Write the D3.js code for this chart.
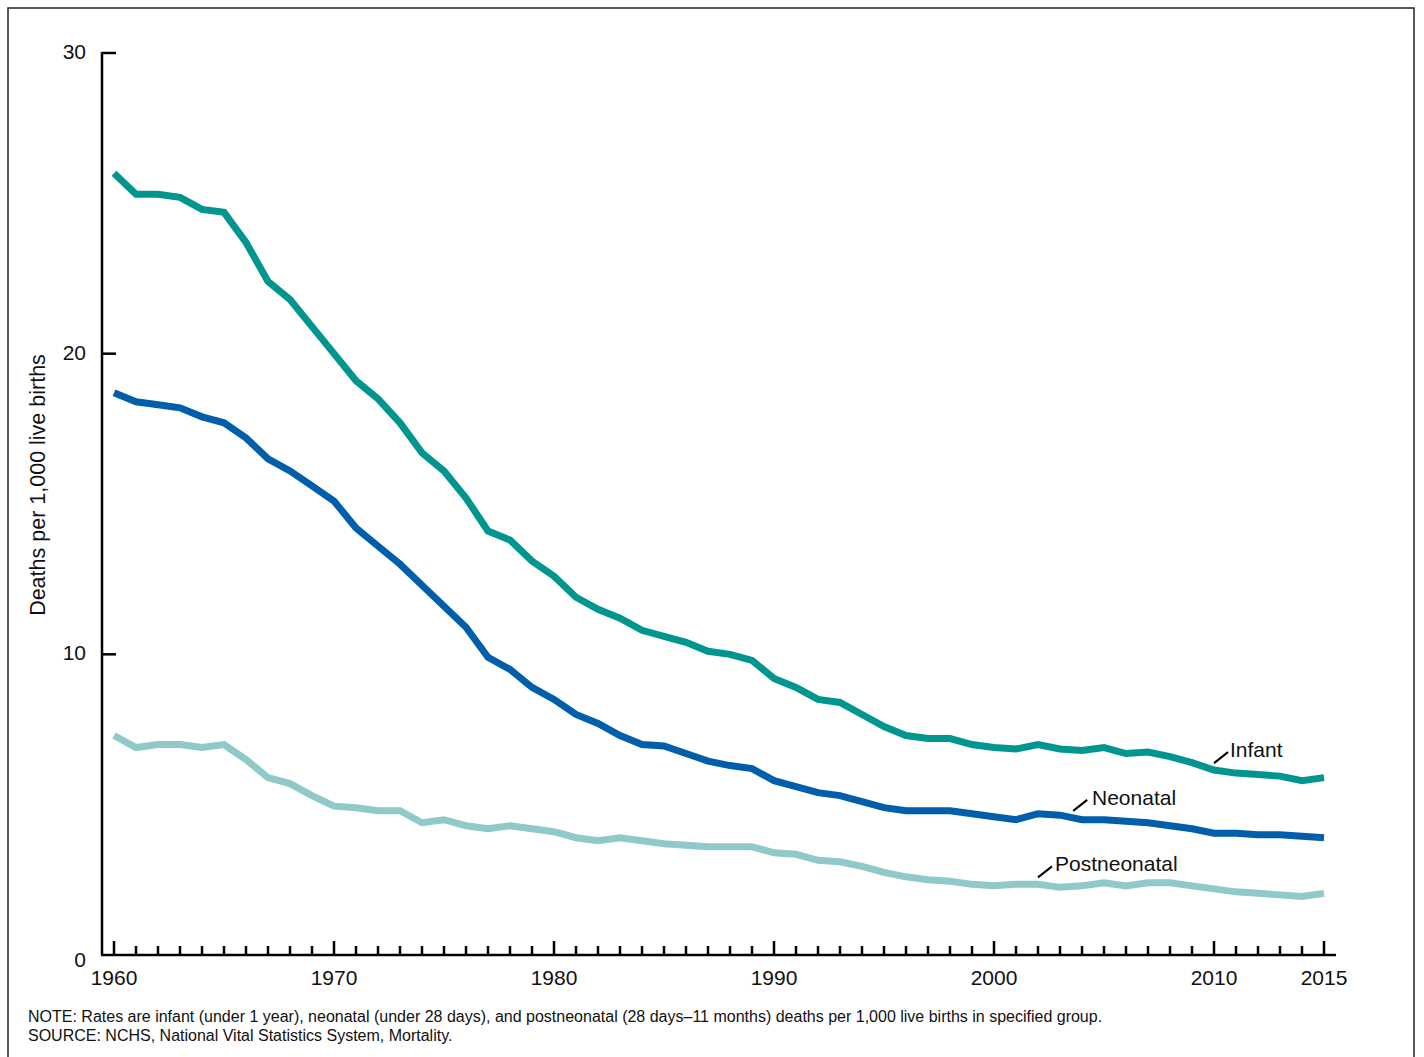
<!DOCTYPE html>
<html>
  <head>
    <meta charset="utf-8" />
    <title>Infant, neonatal and postneonatal mortality</title>
    <script src="https://cdn.jsdelivr.net/npm/d3@7"></script>
    <style type="text/css">
      body { margin: 0; background: #fff; }
      svg text { font-family: Arial, "Liberation Sans", sans-serif; fill: #111; }
    </style>
  </head>
  <body>
    <svg id="chart" width="1424" height="1057"></svg>
    <script type="text/javascript">
      // data, deaths per 1,000 live births, 1960-2015
      var years = d3.range(1960, 2016);

      var infant = [
        26.0, 25.3, 25.3, 25.2, 24.8, 24.7, 23.7, 22.4, 21.8, 20.9,
        20.0, 19.1, 18.5, 17.7, 16.7, 16.1, 15.2, 14.1, 13.8, 13.1,
        12.6, 11.9, 11.5, 11.2, 10.8, 10.6, 10.4, 10.1, 10.0, 9.8,
        9.2, 8.9, 8.5, 8.4, 8.0, 7.6, 7.3, 7.2, 7.2, 7.0,
        6.9, 6.85, 7.0, 6.85, 6.8, 6.9, 6.7, 6.75, 6.6, 6.4,
        6.15, 6.05, 6.0, 5.95, 5.8, 5.9
      ];
      var neonatal = [
        18.7, 18.4, 18.3, 18.2, 17.9, 17.7, 17.2, 16.5, 16.1, 15.6,
        15.1, 14.2, 13.6, 13.0, 12.3, 11.6, 10.9, 9.9, 9.5, 8.9,
        8.5, 8.0, 7.7, 7.3, 7.0, 6.95, 6.7, 6.45, 6.3, 6.2,
        5.8, 5.6, 5.4, 5.3, 5.1, 4.9, 4.8, 4.8, 4.8, 4.7,
        4.6, 4.5, 4.7, 4.65, 4.5, 4.5, 4.45, 4.4, 4.3, 4.2,
        4.05, 4.05, 4.0, 4.0, 3.95, 3.9
      ];
      var postneonatal = [
        7.3, 6.9, 7.0, 7.0, 6.9, 7.0, 6.5, 5.9, 5.7, 5.3,
        4.95, 4.9, 4.8, 4.8, 4.4, 4.5, 4.3, 4.2, 4.3, 4.2,
        4.1, 3.9, 3.8, 3.9, 3.8, 3.7, 3.65, 3.6, 3.6, 3.6,
        3.4, 3.35, 3.15, 3.1, 2.95, 2.75, 2.6, 2.5, 2.45, 2.35,
        2.3, 2.35, 2.35, 2.25, 2.3, 2.4, 2.3, 2.4, 2.4, 2.3,
        2.2, 2.1, 2.05, 2.0, 1.95, 2.05
      ];

      var yTicks = [0, 10, 20, 30];
      var xLabels = [1960, 1970, 1980, 1990, 2000, 2010, 2015];

      var series = [
        { name: 'Postneonatal', values: postneonatal, color: '#8fc9c9', anchor: 2002, lx: 1055 },
        { name: 'Neonatal', values: neonatal, color: '#005eab', anchor: 2003.6, lx: 1092 },
        { name: 'Infant', values: infant, color: '#00958f', anchor: 2010, lx: 1230 }
      ];

      var svg = d3.select('#chart');

      // outer frame
      svg.append('rect')
        .attr('x', 8).attr('y', 8)
        .attr('width', 1406).attr('height', 1060)
        .attr('fill', 'none').attr('stroke', '#222').attr('stroke-width', 1.5);

      var x = d3.scaleLinear().domain([1960, 2015]).range([114, 1324]);
      var y = d3.scaleLinear().domain([0, 30]).range([955, 53]);

      // y axis
      var yAxis = svg.append('g');
      yAxis.append('line')
        .attr('x1', 102).attr('x2', 102)
        .attr('y1', y(30) - 1).attr('y2', y(0))
        .attr('stroke', '#000').attr('stroke-width', 2.5);
      yAxis.selectAll('.ytick').data(yTicks.filter((d) => d > 0)).enter()
        .append('line')
        .attr('x1', 102).attr('x2', 116)
        .attr('y1', (d) => y(d)).attr('y2', (d) => y(d))
        .attr('stroke', '#000').attr('stroke-width', 2.5);
      yAxis.selectAll('.ylab').data(yTicks).enter()
        .append('text')
        .attr('x', 86)
        .attr('y', (d) => y(d) + (d === 0 ? 12 : 6))
        .attr('text-anchor', 'end')
        .attr('font-size', 21)
        .text((d) => d);

      svg.append('text')
        .attr('transform', 'translate(45,' + 485 + ') rotate(-90)')
        .attr('text-anchor', 'middle')
        .attr('font-size', 21.5)
        .text('Deaths per 1,000 live births');

      // x axis
      var xAxis = svg.append('g');
      xAxis.append('line')
        .attr('x1', 101).attr('x2', 1336)
        .attr('y1', 955).attr('y2', 955)
        .attr('stroke', '#000').attr('stroke-width', 2.5);
      xAxis.selectAll('.xtick').data(years).enter()
        .append('line')
        .attr('x1', (d) => x(d)).attr('x2', (d) => x(d))
        .attr('y1', 955)
        .attr('y2', (d) => (d % 10 === 0 || d === 2015 ? 941 : 946))
        .attr('stroke', '#000').attr('stroke-width', 2.5);
      xAxis.selectAll('.xlab').data(xLabels).enter()
        .append('text')
        .attr('x', (d) => x(d))
        .attr('y', 985)
        .attr('text-anchor', 'middle')
        .attr('font-size', 21)
        .text((d) => d);

      // lines
      var line = d3.line()
        .x((d, i) => x(years[i]))
        .y((d) => y(d));

      svg.selectAll('.series').data(series).enter()
        .append('path')
        .attr('d', (s) => line(s.values))
        .attr('fill', 'none')
        .attr('stroke', (s) => s.color)
        .attr('stroke-width', 7)
        .attr('stroke-linejoin', 'miter');

      // labels with leader lines
      function valueAt(s, yr) {
        var i = Math.floor(yr - 1960), t = yr - 1960 - i;
        var a = s.values[i], b = s.values[Math.min(i + 1, s.values.length - 1)];
        return a + (b - a) * t;
      }
      var labels = svg.selectAll('.lab').data(series).enter().append('g');
      labels.append('line')
        .attr('x1', (s) => x(s.anchor))
        .attr('y1', (s) => y(valueAt(s, s.anchor)) - 7)
        .attr('x2', (s) => x(s.anchor) + 14)
        .attr('y2', (s) => y(valueAt(s, s.anchor)) - 18)
        .attr('stroke', '#000').attr('stroke-width', 2);
      labels.append('text')
        .attr('x', (s) => s.lx)
        .attr('y', (s) => y(valueAt(s, s.anchor)) - 13)
        .attr('font-size', 21)
        .text((s) => s.name);

      // footnote
      var notes = [
        'NOTE: Rates are infant (under 1 year), neonatal (under 28 days), and postneonatal (28 days\u201311 months) deaths per 1,000 live births in specified group.',
        'SOURCE: NCHS, National Vital Statistics System, Mortality.'
      ];
      svg.selectAll('.note').data(notes).enter()
        .append('text')
        .attr('x', 28)
        .attr('y', (d, i) => 1022 + i * 19)
        .attr('font-size', 16)
        .text((d) => d);
    </script>
  </body>
</html>
